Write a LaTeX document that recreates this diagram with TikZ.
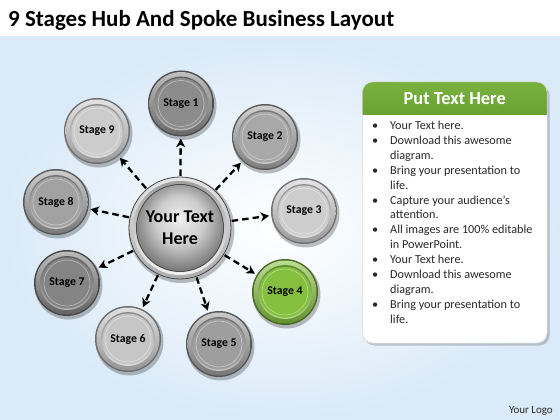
\documentclass[tikz,border=0pt]{standalone}
\usepackage{fontspec}
\setmainfont{Carlito}
\usetikzlibrary{arrows.meta,calc,shadows}
\definecolor{bgblue}{RGB}{218,234,248}
\definecolor{panelgreen}{RGB}{120,178,62}
\definecolor{panelgreendark}{RGB}{106,162,50}
\definecolor{bodytext}{RGB}{40,40,40}
\definecolor{c1}{RGB}{140,140,140}
\definecolor{c2}{RGB}{168,168,168}
\definecolor{c3}{RGB}{206,206,206}
\definecolor{c4}{RGB}{132,192,62}
\definecolor{c5}{RGB}{158,158,158}
\definecolor{c6}{RGB}{198,198,198}
\definecolor{c7}{RGB}{132,132,132}
\definecolor{c8}{RGB}{162,162,162}
\definecolor{c9}{RGB}{204,204,204}
\pgfdeclareradialshading{hubball}{\pgfpoint{0bp}{6bp}}{%
  color(0bp)=(gray!12); color(14bp)=(gray!40); color(34bp)=(gray!62!black); color(50bp)=(gray!55!black)}
\newcommand\stagedisc[2]{% #1 position, #2 colour
  \fill[black,opacity=0.25] ($(#1)+(1.5,2.5)$) circle (34pt);
  \fill[#2!55!black] (#1) circle (33pt);
  \shade[top color=#2!55!white, bottom color=#2!75!black] (#1) circle (31.5pt);
  \shade[top color=#2!70!black, bottom color=#2!60!white] (#1) circle (27pt);
  \fill[#2] (#1) circle (25.5pt);
  \draw[white,opacity=0.45,line width=0.6pt] (#1) circle (23pt);
}
\tikzset{
  stagelabel/.style={circle, minimum size=66pt, inner sep=0pt, font=\bfseries\fontsize{11.8}{13}\selectfont, text=black},
  spoke/.style={draw=black, line width=2.3pt, dash pattern=on 6.5pt off 4pt, -{Stealth[length=8.5pt,width=9pt,inset=2.5pt]}, shorten >=2pt, shorten <=1pt},
}
\begin{document}
\begin{tikzpicture}[x=1pt,y=-1pt]
\useasboundingbox (0,0) rectangle (560,420);
% background
\fill[white] (0,0) rectangle (560,420);
\shade[inner color=white, outer color=bgblue] (0,37) rectangle (560,420);
% title
\node[anchor=base west, inner sep=0pt, font=\bfseries\fontsize{23}{28}\selectfont] (title) at (8,27) {9 Stages Hub And Spoke Business Layout};
% stage discs
\stagedisc{181,103.5}{c1}
\stagedisc{265,137}{c2}
\stagedisc{304,211}{c3}
\stagedisc{285,292}{c4}
\stagedisc{219,344}{c5}
\stagedisc{128,339}{c6}
\stagedisc{67,283}{c7}
\stagedisc{56,202}{c8}
\stagedisc{97,131}{c9}
% hub
\fill[black,opacity=0.25] (181.5,230) circle (53pt);
\shade[top color=gray!20, bottom color=gray!65] (180,228) circle (51pt);
\draw[gray!55!black, line width=0.8pt] (180,228) circle (51pt);
\shade[top color=gray!75, bottom color=gray!10] (180,228) circle (47pt);
\fill[gray!60!black] (180,228) circle (44pt);
\shade[shading=hubball] (180,228) circle (43pt);
% labels
\node[stagelabel] (s1) at (181,103.5) {Stage 1};
\node[stagelabel] (s2) at (265,137) {Stage 2};
\node[stagelabel] (s3) at (304,211) {Stage 3};
\node[stagelabel] (s4) at (285,292) {Stage 4};
\node[stagelabel] (s5) at (219,344) {Stage 5};
\node[stagelabel] (s6) at (128,339) {Stage 6};
\node[stagelabel] (s7) at (67,283) {Stage 7};
\node[stagelabel] (s8) at (56,202) {Stage 8};
\node[stagelabel] (s9) at (97,131) {Stage 9};
\node[circle, minimum size=102pt, inner sep=0pt, align=center, font=\bfseries\fontsize{18}{22}\selectfont] (hub) at (180,228) {Your Text\\Here};
% spokes
\foreach \s in {s1,s2,s3,s4,s5,s6,s7,s8,s9}
  \draw[spoke] (hub) -- (\s);
% panel
\fill[black,opacity=0.18, rounded corners=10pt] (364.5,85.5) rectangle (549.5,345.5);
\fill[white, rounded corners=10pt] (362.5,82) rectangle (547,343);
\begin{scope}
  \clip[rounded corners=10pt] (362.5,82) rectangle (547,343);
  \shade[top color=panelgreen, bottom color=panelgreendark] (362.5,82) rectangle (547,114);
\end{scope}
\draw[gray!30, line width=0.5pt, rounded corners=10pt] (362.5,82) rectangle (547,343);
\node[font=\bfseries\fontsize{18.4}{20}\selectfont, text=white] (head) at (454.75,99) {Put Text Here};
\node[anchor=base west, inner sep=0pt, text=bodytext, font=\fontsize{12.2}{14.9}\selectfont] (body) at (372,129.5) {%
\begin{tabular}[t]{@{}p{18pt}@{}l@{}}
\textbullet & Your Text here.\\
\textbullet & Download this awesome\\
 & diagram.\\
\textbullet & Bring your presentation to\\
 & life.\\
\textbullet & Capture your audience’s\\
 & attention.\\
\textbullet & All images are 100\% editable\\
 & in PowerPoint.\\
\textbullet & Your Text here.\\
\textbullet & Download this awesome\\
 & diagram.\\
\textbullet & Bring your presentation to\\
 & life.
\end{tabular}};
% logo
\node[anchor=base east, inner sep=0pt, font=\fontsize{11}{12}\selectfont, text=bodytext] (logo) at (553,413) {Your Logo};
\end{tikzpicture}
\end{document}
